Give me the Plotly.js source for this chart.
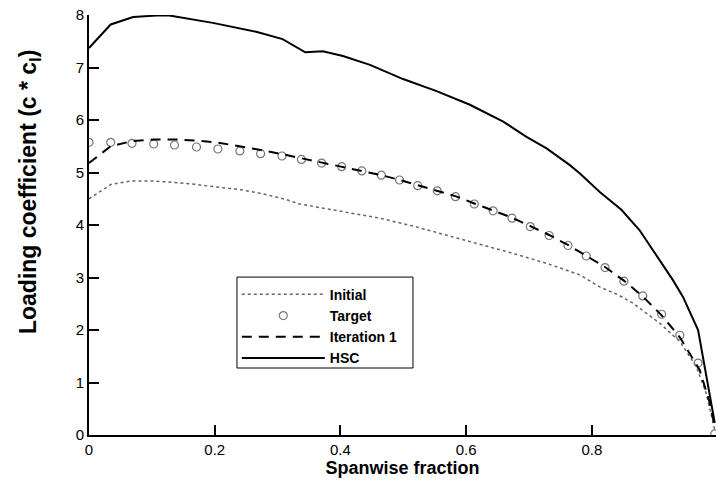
<!DOCTYPE html>
<html>
<head>
<meta charset="utf-8">
<script src="https://cdn.plot.ly/plotly-3.0.1.min.js"></script>
<style>html,body{margin:0;padding:0;background:#fff;}#chart{width:716px;height:489px;}</style>
</head>
<body>
<div id="chart"></div>
<script>
// Initial (dotted)
const initialX = [0, 0.0356, 0.067, 0.099, 0.136, 0.168, 0.205, 0.2425, 0.274, 0.311, 0.335, 0.388, 0.4626, 0.5155, 0.5686, 0.616, 0.6746, 0.7277, 0.781, 0.8126, 0.8417, 0.8656, 0.908, 0.94, 0.9664, 0.982, 0.9955];
const initialY = [4.50, 4.775, 4.84, 4.84, 4.81, 4.775, 4.72, 4.67, 4.60, 4.495, 4.40, 4.29, 4.13, 3.98, 3.81, 3.66, 3.46, 3.27, 3.05, 2.82, 2.67, 2.51, 2.13, 1.78, 1.30, 0.79, 0.10];

// Target (circles)
const targetX = [0, 0.0345, 0.0684, 0.103, 0.136, 0.171, 0.205, 0.240, 0.273, 0.307, 0.338, 0.370, 0.402, 0.434, 0.465, 0.494, 0.523, 0.554, 0.583, 0.613, 0.643, 0.673, 0.702, 0.732, 0.762, 0.791, 0.821, 0.851, 0.881, 0.911, 0.940, 0.969, 0.9955];
const targetY = [5.575, 5.575, 5.556, 5.543, 5.524, 5.486, 5.448, 5.41, 5.358, 5.314, 5.25, 5.18, 5.11, 5.03, 4.95, 4.857, 4.75, 4.65, 4.54, 4.40, 4.27, 4.13, 3.97, 3.80, 3.61, 3.41, 3.19, 2.93, 2.65, 2.30, 1.90, 1.37, 0.02];

// Iteration 1 (dashed)
const iterX = [0, 0.0345, 0.069, 0.103, 0.136, 0.171, 0.205, 0.240, 0.273, 0.307, 0.338, 0.370, 0.402, 0.434, 0.465, 0.494, 0.523, 0.554, 0.583, 0.613, 0.643, 0.673, 0.702, 0.732, 0.762, 0.791, 0.821, 0.851, 0.881, 0.911, 0.940, 0.9715, 0.9876, 0.9955];
const iterY = [5.18, 5.50, 5.60, 5.63, 5.63, 5.61, 5.57, 5.50, 5.43, 5.35, 5.27, 5.19, 5.11, 5.03, 4.95, 4.86, 4.76, 4.66, 4.55, 4.41, 4.28, 4.14, 3.98, 3.81, 3.62, 3.42, 3.20, 2.94, 2.64, 2.28, 1.86, 1.24, 0.61, 0.16];

// HSC (solid)
const hscX = [0, 0.0345, 0.0703, 0.107, 0.128, 0.197, 0.266, 0.308, 0.344, 0.372, 0.404, 0.447, 0.4997, 0.553, 0.606, 0.659, 0.696, 0.728, 0.765, 0.781, 0.8126, 0.847, 0.876, 0.908, 0.929, 0.945, 0.969, 0.9955];
const hscY = [7.37, 7.82, 7.96, 7.99, 7.99, 7.85, 7.68, 7.54, 7.29, 7.31, 7.22, 7.05, 6.78, 6.55, 6.29, 5.97, 5.68, 5.46, 5.14, 4.98, 4.63, 4.29, 3.90, 3.33, 2.95, 2.63, 2.00, 0.23];

const xTicks = [0, 0.2, 0.4, 0.6, 0.8];
const xTickText = ['0', '0.2', '0.4', '0.6', '0.8'];
const yTicks = [0, 1, 2, 3, 4, 5, 6, 7, 8];

const FONT = 'Liberation Sans, Arial, sans-serif';

const traces = [
  {x: initialX, y: initialY, name: 'Initial', mode: 'lines',
   line: {color: '#666666', width: 1.5, dash: 'dot'}},
  {x: targetX, y: targetY, name: 'Target', mode: 'markers',
   marker: {symbol: 'circle-open', size: 8, color: '#777777', line: {width: 1.2, color: '#777777'}}},
  {x: iterX, y: iterY, name: 'Iteration 1', mode: 'lines',
   line: {color: '#000000', width: 2, dash: '10px,7px'}},
  {x: hscX, y: hscY, name: 'HSC', mode: 'lines',
   line: {color: '#000000', width: 2}}
];

const layout = {
  width: 716, height: 489,
  margin: {l: 89, r: 0, t: 15, b: 54},
  paper_bgcolor: '#ffffff', plot_bgcolor: '#ffffff',
  font: {family: FONT, size: 15, color: '#000'},
  showlegend: true,
  legend: {x: 0.2357, y: 0.372, xanchor: 'left', yanchor: 'top',
    borderwidth: 0, bgcolor: 'rgba(0,0,0,0)',
    itemwidth: 83,
    font: {family: FONT, size: 14, color: '#000', weight: 'bold'}},
  shapes: [
    {type: 'rect', xref: 'paper', yref: 'paper', x0: 0.236, x1: 0.5167, y0: 0.1595, y1: 0.376,
     line: {color: '#000', width: 1}, fillcolor: 'rgba(255,255,255,0)', layer: 'above'}
  ],
  annotations: [
    {text: '<b>Loading coefficient (c * c<sub>l</sub>)</b>', xref: 'paper', yref: 'paper',
     x: -0.094, y: 0.5786, xanchor: 'center', yanchor: 'middle', textangle: -90, showarrow: false,
     font: {family: FONT, size: 23, color: '#000'}}
  ],
  xaxis: {range: [0, 0.9975], tickvals: xTicks, ticktext: xTickText,
    showgrid: false, zeroline: false, showline: true, linecolor: '#000', linewidth: 2,
    ticks: 'inside', ticklen: 10, tickwidth: 2, tickcolor: '#000',
    tickfont: {size: 15},
    title: {text: '<b>Spanwise fraction</b>', font: {size: 18, family: FONT}, standoff: 4}},
  yaxis: {range: [0, 8], tickvals: yTicks,
    showgrid: false, zeroline: false, showline: true, linecolor: '#000', linewidth: 2,
    ticks: 'inside', ticklen: 10, tickwidth: 2, tickcolor: '#000',
    tickfont: {size: 15}}
};

Plotly.newPlot('chart', traces, layout, {displayModeBar: false, staticPlot: true});
</script>
</body>
</html>
